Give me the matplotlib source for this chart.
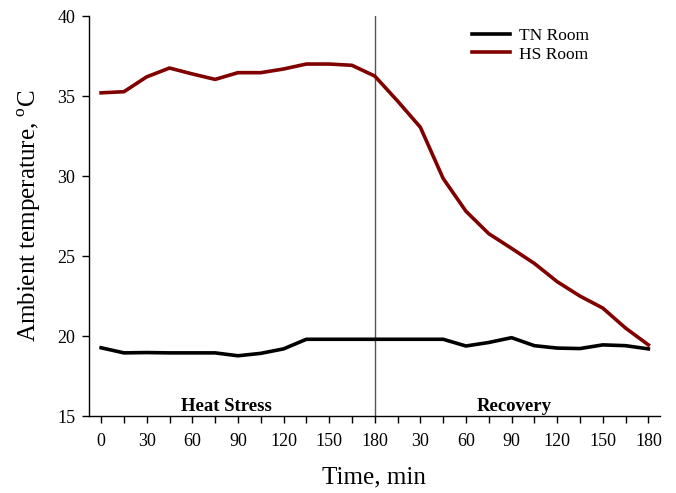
import matplotlib
matplotlib.use("Agg")
import matplotlib.pyplot as plt
import numpy as np

plt.rcParams['font.family'] = ['Liberation Serif', 'DejaVu Serif']
plt.rcParams['mathtext.fontset'] = 'custom'
plt.rcParams['mathtext.rm'] = 'Liberation Serif'

time_labels = ["0", "30", "60", "90", "120", "150", "180",
               "30", "60", "90", "120", "150", "180"]
tn_room = [19.27, 18.95, 18.97, 18.95, 18.95, 18.95, 18.77, 18.92, 19.2, 19.8, 19.8, 19.8, 19.8,
           19.8, 19.8, 19.8, 19.38, 19.6, 19.9, 19.4, 19.25, 19.22, 19.45, 19.4, 19.2]
hs_room = [35.2, 35.27, 36.2, 36.75, 36.38, 36.04, 36.46, 36.46, 36.69, 37.0, 37.0, 36.92, 36.25,
           34.69, 33.05, 29.85, 27.8, 26.4, 25.48, 24.54, 23.4, 22.5, 21.75, 20.5, 19.45]
phase_labels = ["Heat Stress", "Recovery"]

fig = plt.figure(figsize=(6.76, 4.93), dpi=100)
ax = fig.add_axes([0.1317, 0.156, 0.8443, 0.8115])

x = np.arange(len(tn_room))
ax.plot(x, tn_room, color='black', lw=2.6, label='TN Room')
ax.plot(x, hs_room, color='#800000', lw=2.6, label='HS Room')

ax.axvline(12, color='#555555', lw=1.0, zorder=0)

ax.set_xlim(-0.53, 24.5)
ax.set_ylim(15, 40)
ax.set_yticks(np.arange(15, 41, 5))
ax.set_xticks(np.arange(0, 25, 2))
ax.set_xticklabels(time_labels)
ax.set_xticks(np.arange(1, 25, 2), minor=True)
ax.tick_params(axis='both', which='both', direction='out', length=5, width=1, labelsize=13)
ax.tick_params(axis='x', pad=7)
ax.tick_params(axis='y', pad=5)

for s in ['top', 'right']:
    ax.spines[s].set_visible(False)
for s in ['left', 'bottom']:
    ax.spines[s].set_linewidth(1.0)

ax.set_xlabel('Time, min', fontsize=18, labelpad=12)
ax.set_ylabel('Ambient temperature, $^{\\mathrm{o}}$C', fontsize=18, labelpad=10)

ax.text(5.48, 15.62, phase_labels[0], ha='center', va='center', fontsize=13.5, fontweight='bold')
ax.text(18.13, 15.62, phase_labels[1], ha='center', va='center', fontsize=13.5, fontweight='bold')

leg = ax.legend(loc='upper left', bbox_to_anchor=(0.643, 1.01), frameon=False, fontsize=12.5,
                handlelength=2.2, labelspacing=0.15, handletextpad=0.55)

fig.savefig('out.png', dpi=100)
